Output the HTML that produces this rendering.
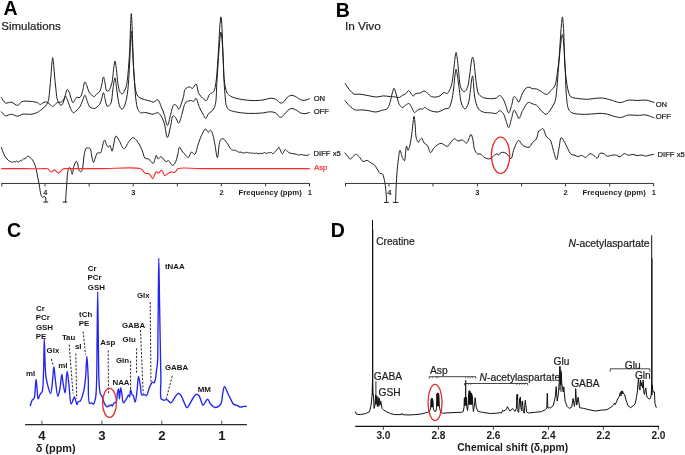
<!DOCTYPE html>
<html><head><meta charset="utf-8"><style>
html,body{margin:0;padding:0;background:#fff;}
body{width:685px;height:455px;overflow:hidden;font-family:"Liberation Sans",sans-serif;}
svg{display:block;will-change:transform;}
</style></head><body>
<svg width="685" height="455" viewBox="0 0 685 455"><rect width="685" height="455" fill="#fff"/><g fill="none" stroke="#1e1e1e" stroke-width="1" stroke-linejoin="round" stroke-linecap="round"><path d="M1.30,111.80 C2.02,112.47 3.95,115.40 5.60,115.80 C7.25,116.20 9.27,114.18 11.20,114.20 C13.29,114.22 15.71,116.30 17.70,116.20 C19.44,116.12 20.58,114.58 22.50,114.20 C25.09,113.68 29.17,114.71 32.00,114.20 C34.41,113.77 37.13,112.57 38.50,111.80 C39.22,111.39 39.39,111.07 40.00,110.60 C40.92,109.89 42.42,108.99 43.50,108.00 C44.62,106.97 45.78,105.77 46.60,104.50 C47.40,103.27 47.93,102.19 48.40,100.50 C49.14,97.87 49.30,93.82 49.70,90.00 C50.18,85.45 50.62,79.72 51.00,75.00 C51.34,70.78 51.54,66.19 51.90,63.00 C52.14,60.87 52.43,57.70 52.70,57.70 C52.97,57.70 53.25,60.87 53.50,63.00 C53.87,66.19 54.13,70.91 54.50,75.00 C54.89,79.30 55.34,84.05 55.80,88.20 C56.21,91.90 56.46,96.14 57.10,98.70 C57.49,100.24 57.89,101.19 58.50,102.30 C59.10,103.39 59.98,105.06 60.70,105.30 C61.14,105.44 61.62,105.22 62.00,104.90 C62.55,104.43 62.88,103.38 63.30,102.30 C63.93,100.70 64.45,98.19 65.10,96.10 C65.78,93.93 66.47,89.64 67.30,89.50 C67.83,89.41 68.48,90.70 69.00,91.70 C69.85,93.33 70.44,96.71 71.20,98.70 C71.79,100.24 72.33,102.64 73.00,102.70 C73.61,102.75 74.31,100.64 75.00,99.70 C75.65,98.81 76.24,97.46 77.00,97.20 C77.61,96.99 78.37,97.83 79.00,97.70 C79.68,97.55 80.35,96.99 80.90,96.20 C81.81,94.88 82.26,92.05 82.90,89.80 C83.60,87.31 84.09,81.99 84.90,81.90 C85.49,81.83 86.28,84.33 86.90,85.80 C87.64,87.56 88.03,90.20 88.90,91.80 C89.58,93.04 90.37,94.01 91.30,94.80 C92.18,95.55 93.40,96.64 94.30,96.50 C95.23,96.35 95.90,94.66 96.80,93.80 C97.73,92.92 99.02,92.48 99.80,91.30 C100.82,89.76 101.11,87.16 101.70,84.90 C102.35,82.39 102.90,76.91 103.50,76.90 C104.06,76.90 104.66,81.57 105.20,83.90 C105.73,86.21 105.71,90.00 106.70,90.80 C107.23,91.23 108.17,91.10 108.70,90.80 C109.30,90.46 109.57,89.56 110.00,88.60 C110.71,87.03 111.54,84.66 112.10,82.10 C112.87,78.58 113.06,73.10 113.60,69.30 C114.04,66.23 114.53,61.00 115.00,61.00 C115.47,61.00 115.97,66.15 116.40,69.30 C116.96,73.41 117.18,79.47 117.90,83.60 C118.46,86.82 118.95,90.40 120.00,92.10 C120.59,93.06 121.42,93.95 122.10,93.90 C122.85,93.85 123.66,92.48 124.30,91.40 C125.17,89.95 125.84,87.93 126.40,85.70 C127.15,82.72 127.49,78.74 127.90,75.00 C128.35,70.91 128.60,66.33 128.90,62.10 C129.19,58.00 129.47,54.54 129.70,50.00 C129.99,44.17 130.18,35.82 130.40,30.00 C130.57,25.49 130.70,21.02 130.90,18.00 C131.02,16.17 131.17,13.60 131.30,13.60 C131.43,13.60 131.58,16.17 131.70,18.00 C131.90,21.02 132.03,25.49 132.20,30.00 C132.42,35.82 132.66,43.39 132.90,50.00 C133.13,56.49 133.23,63.07 133.60,69.30 C133.95,75.18 134.24,81.69 135.00,86.40 C135.55,89.78 135.97,92.99 137.10,95.00 C137.87,96.37 138.85,97.14 140.00,97.90 C141.22,98.70 142.75,99.11 144.30,99.60 C146.05,100.16 148.42,100.49 150.00,101.00 C151.17,101.38 151.89,102.25 153.00,102.20 C154.42,102.14 156.51,99.37 157.80,99.80 C159.29,100.30 159.98,103.92 161.00,106.20 C162.12,108.72 163.20,111.36 164.20,114.30 C165.36,117.71 166.32,125.50 167.40,125.50 C168.48,125.50 169.58,117.89 170.70,114.30 C171.75,110.94 172.47,105.32 173.90,104.60 C174.61,104.24 175.58,104.85 176.30,105.40 C177.25,106.13 177.86,109.19 178.70,109.10 C180.17,108.95 182.41,100.25 183.50,96.60 C184.32,93.88 183.83,90.93 185.10,89.30 C186.17,87.92 188.59,86.82 189.90,86.90 C190.86,86.96 191.47,88.62 192.30,88.50 C193.48,88.33 194.99,83.80 196.00,84.00 C197.31,84.26 197.44,90.85 198.80,93.40 C199.91,95.49 201.57,97.25 203.00,98.50 C204.11,99.47 205.41,100.88 206.40,100.60 C207.72,100.22 208.21,95.70 209.60,94.20 C210.72,92.99 212.59,93.17 213.60,91.80 C215.08,89.79 215.38,85.82 216.00,82.10 C216.81,77.23 217.07,70.52 217.50,65.00 C217.90,59.84 218.17,55.36 218.50,50.00 C218.88,43.81 219.23,35.52 219.60,30.00 C219.86,26.09 220.11,22.38 220.40,20.00 C220.56,18.67 220.73,16.90 220.90,16.90 C221.07,16.90 221.25,18.67 221.40,20.00 C221.67,22.38 221.89,26.09 222.10,30.00 C222.39,35.52 222.57,43.81 222.80,50.00 C223.00,55.36 223.18,60.10 223.40,65.00 C223.61,69.72 223.68,74.77 224.10,78.90 C224.44,82.26 224.87,85.38 225.50,88.00 C226.00,90.06 226.22,91.93 227.30,93.40 C228.40,94.91 230.11,95.95 232.10,96.90 C234.68,98.13 238.31,98.89 241.80,99.50 C245.74,100.19 250.64,100.59 254.60,100.60 C258.03,100.60 261.33,100.27 264.20,99.80 C266.59,99.41 268.69,98.24 270.70,98.20 C272.42,98.17 273.92,98.51 275.50,99.20 C277.36,100.01 279.38,103.00 281.00,103.10 C282.18,103.18 283.21,102.25 284.20,101.40 C285.42,100.36 286.15,98.00 287.50,97.00 C288.75,96.07 290.43,95.40 291.90,95.40 C293.37,95.40 294.87,96.30 296.30,97.00 C297.81,97.74 299.18,99.26 300.70,99.80 C302.09,100.29 303.58,100.47 305.00,100.30 C306.48,100.13 308.67,98.97 309.40,98.70"/><path d="M1.30,97.70 C2.02,98.58 3.84,102.31 5.60,103.00 C7.20,103.63 9.31,101.90 11.20,102.20 C13.34,102.54 15.87,105.67 17.70,105.40 C19.29,105.17 19.94,102.42 21.70,101.70 C23.94,100.78 27.72,101.20 30.50,101.40 C33.03,101.58 36.03,101.95 37.70,102.70 C38.76,103.17 39.19,104.43 40.00,104.50 C40.82,104.57 41.72,103.55 42.60,103.10 C43.49,102.65 44.40,101.85 45.30,101.80 C46.16,101.75 47.07,102.23 47.90,102.70 C48.82,103.22 49.66,104.22 50.50,104.90 C51.26,105.51 51.97,106.63 52.70,106.60 C53.47,106.57 54.20,105.20 55.00,104.50 C55.83,103.77 56.67,102.64 57.60,102.30 C58.42,102.00 59.38,102.46 60.20,102.30 C60.98,102.15 61.77,101.92 62.40,101.40 C63.14,100.80 63.67,99.61 64.20,98.70 C64.70,97.84 65.03,96.10 65.50,96.10 C66.05,96.10 66.71,98.24 67.30,99.60 C68.06,101.35 68.74,103.88 69.50,105.80 C70.18,107.52 70.83,109.35 71.60,110.60 C72.16,111.52 72.69,112.70 73.40,112.80 C74.15,112.91 75.15,111.69 76.00,111.00 C76.92,110.24 77.90,109.40 78.70,108.40 C79.55,107.32 80.23,106.05 80.90,104.70 C81.65,103.18 82.22,101.32 82.90,99.70 C83.55,98.15 84.22,95.18 84.90,95.20 C85.71,95.22 86.53,99.65 87.40,101.70 C88.20,103.60 88.84,106.08 89.90,107.10 C90.60,107.77 91.48,107.85 92.30,108.10 C93.11,108.35 94.01,108.79 94.80,108.60 C95.69,108.38 96.48,107.32 97.30,106.60 C98.15,105.85 99.12,105.27 99.80,104.20 C100.69,102.82 101.10,100.59 101.70,98.70 C102.33,96.73 102.93,92.59 103.50,92.60 C104.11,92.62 104.57,97.41 105.20,99.70 C105.81,101.90 106.19,105.53 107.20,106.10 C107.76,106.41 108.61,106.02 109.20,105.60 C109.96,105.06 110.58,104.10 111.10,102.70 C112.13,99.93 112.22,93.58 112.90,89.30 C113.53,85.34 114.39,77.89 115.00,77.90 C115.53,77.91 115.95,83.35 116.40,86.40 C116.92,89.94 117.25,94.29 117.90,97.90 C118.48,101.15 118.96,105.17 120.00,107.10 C120.59,108.20 121.41,109.34 122.10,109.30 C122.85,109.26 123.67,107.65 124.30,106.40 C125.20,104.61 125.83,101.89 126.40,99.30 C127.07,96.27 127.47,93.22 127.90,89.30 C128.51,83.79 128.94,75.41 129.30,69.30 C129.61,64.14 129.79,59.82 130.00,55.00 C130.22,50.06 130.34,44.32 130.60,40.00 C130.80,36.71 131.07,31.30 131.30,31.30 C131.53,31.30 131.77,36.71 132.00,40.00 C132.30,44.32 132.63,50.18 132.90,55.00 C133.16,59.49 133.34,64.14 133.60,68.00 C133.81,71.11 134.04,72.95 134.30,76.40 C134.71,81.91 134.93,91.88 135.70,97.90 C136.27,102.32 136.70,106.66 137.90,109.30 C138.65,110.96 139.55,112.43 140.70,112.90 C141.73,113.32 142.97,112.35 144.30,112.40 C145.99,112.46 148.40,113.27 150.00,113.60 C151.16,113.84 151.89,114.26 153.00,114.20 C154.42,114.12 156.44,112.37 157.80,112.70 C159.09,113.02 160.04,114.51 161.00,115.90 C162.26,117.74 163.26,120.23 164.20,123.10 C165.50,127.04 166.27,137.57 167.40,137.60 C168.44,137.63 169.72,129.31 170.70,125.50 C171.57,122.12 171.75,116.41 173.00,115.90 C173.69,115.62 174.71,116.67 175.50,117.50 C176.66,118.72 177.72,123.18 178.70,123.10 C179.89,123.00 180.80,117.48 181.90,114.30 C183.19,110.60 183.71,104.30 185.90,102.20 C187.38,100.78 190.01,100.58 191.50,100.60 C192.50,100.62 193.29,101.66 194.00,101.40 C194.85,101.09 195.31,98.13 196.00,98.20 C197.14,98.31 198.31,104.99 199.60,107.80 C200.67,110.13 201.92,112.13 203.00,114.00 C203.91,115.57 204.67,118.28 205.60,118.30 C206.60,118.32 207.55,114.78 208.80,113.40 C209.97,112.11 211.74,111.57 212.80,110.20 C213.96,108.70 214.66,107.17 215.30,104.60 C216.53,99.68 216.41,89.39 216.90,82.10 C217.37,75.21 217.77,68.42 218.20,62.00 C218.60,56.10 219.01,49.92 219.40,45.00 C219.70,41.23 219.96,37.33 220.30,35.00 C220.49,33.74 220.70,32.10 220.90,32.10 C221.10,32.10 221.31,33.74 221.50,35.00 C221.84,37.33 222.12,41.22 222.40,45.00 C222.77,49.92 223.12,56.09 223.40,62.00 C223.70,68.42 223.75,75.80 224.10,82.10 C224.41,87.71 224.81,93.58 225.30,98.00 C225.65,101.19 225.68,104.11 226.50,106.20 C227.09,107.70 227.70,108.80 228.90,109.70 C230.41,110.83 232.76,111.23 235.30,111.80 C238.82,112.59 243.90,113.18 248.20,113.40 C252.47,113.61 257.04,113.41 261.00,113.10 C264.47,112.83 268.04,111.68 270.70,111.80 C272.59,111.89 273.99,112.12 275.50,112.90 C277.25,113.81 278.84,117.21 280.40,117.30 C281.72,117.38 283.00,115.70 284.20,114.60 C285.54,113.38 286.60,111.23 288.00,110.20 C289.20,109.32 290.55,108.53 291.90,108.50 C293.32,108.47 294.86,109.49 296.30,110.20 C297.80,110.94 299.19,112.32 300.70,112.90 C302.09,113.44 303.57,113.77 305.00,113.70 C306.47,113.62 308.67,112.62 309.40,112.40"/><path d="M1.40,147.40 C1.57,147.90 1.96,149.26 2.40,150.40 C3.00,151.99 3.92,154.46 4.80,156.00 C5.49,157.20 6.27,158.15 7.00,159.00 C7.60,159.70 8.16,160.38 8.80,160.80 C9.34,161.16 9.89,161.25 10.50,161.50 C11.21,161.78 12.18,162.51 12.80,162.40 C13.30,162.31 13.58,161.34 14.00,161.30 C14.39,161.26 14.80,162.03 15.20,162.00 C15.63,161.97 16.07,161.00 16.50,161.00 C16.93,161.00 17.33,161.91 17.80,162.00 C18.26,162.09 18.86,161.87 19.30,161.60 C19.78,161.30 20.10,160.24 20.50,160.20 C20.83,160.17 21.17,161.04 21.50,161.00 C21.93,160.95 22.34,159.75 22.80,159.30 C23.18,158.92 23.62,158.39 24.00,158.40 C24.35,158.41 24.66,159.24 25.00,159.20 C25.48,159.14 25.93,157.70 26.50,157.20 C26.98,156.77 27.58,156.31 28.10,156.30 C28.58,156.29 29.02,156.69 29.50,157.00 C30.08,157.38 30.70,157.85 31.30,158.50 C32.10,159.37 32.99,160.49 33.70,161.90 C34.66,163.80 35.44,166.62 36.10,169.10 C36.78,171.68 37.17,174.43 37.70,177.10 C38.23,179.77 38.78,182.30 39.30,185.10 C39.88,188.17 40.16,192.71 41.00,194.80 C41.45,195.93 41.99,197.04 42.60,197.20 C43.08,197.33 43.69,196.32 44.20,196.40 C44.77,196.49 45.50,197.27 45.80,198.00 C46.20,198.98 45.80,201.33 45.80,202.00"/><path d="M65.50,202.00 C65.72,198.90 66.39,188.79 66.80,183.40 C67.11,179.25 67.12,175.33 67.70,172.40 C68.10,170.38 68.66,167.48 69.30,167.40 C69.80,167.34 70.52,169.15 71.00,170.20 C71.55,171.41 71.90,174.32 72.30,174.30 C72.83,174.27 72.98,169.17 73.70,166.90 C74.36,164.83 75.56,161.23 76.30,161.20 C76.79,161.18 77.21,162.55 77.60,163.60 C78.24,165.31 78.31,169.43 79.20,170.70 C79.67,171.37 80.41,171.94 80.90,171.80 C81.56,171.61 82.05,170.03 82.50,168.50 C83.38,165.54 83.37,158.54 84.20,154.80 C84.80,152.11 85.29,148.81 86.40,148.00 C87.02,147.55 87.94,147.86 88.60,148.00 C89.19,148.12 89.75,148.15 90.20,148.70 C91.18,149.92 91.29,154.53 91.90,157.00 C92.40,159.03 92.92,162.48 93.50,162.50 C94.03,162.52 94.58,159.61 95.20,158.10 C95.87,156.48 96.29,153.95 97.40,153.10 C98.27,152.43 99.90,153.30 100.70,152.60 C101.75,151.68 101.72,149.05 102.30,147.10 C102.97,144.88 103.70,140.05 104.50,140.00 C105.18,139.96 105.94,143.62 106.70,144.90 C107.25,145.82 107.83,147.07 108.40,147.10 C108.93,147.13 109.51,145.30 110.00,145.40 C110.79,145.57 111.27,151.23 112.00,151.20 C113.17,151.16 114.37,136.28 116.00,136.00 C116.99,135.83 118.14,138.97 119.30,140.80 C120.77,143.11 122.37,148.75 124.00,148.80 C125.58,148.85 127.26,143.59 128.90,141.60 C130.23,140.00 131.53,137.68 132.90,137.60 C134.20,137.53 135.64,139.31 136.90,140.80 C138.67,142.89 140.64,146.97 141.80,149.60 C142.67,151.57 143.02,153.46 143.60,155.00 C144.05,156.19 144.11,157.40 144.90,158.10 C145.77,158.87 147.54,158.49 148.80,159.20 C150.33,160.06 152.01,163.57 153.20,163.30 C154.62,162.98 155.38,155.44 156.30,155.40 C156.92,155.38 157.19,158.68 158.00,158.90 C158.80,159.11 160.00,156.70 161.10,156.80 C162.58,156.94 164.45,161.27 165.90,161.60 C166.83,161.81 167.63,160.46 168.50,160.70 C169.82,161.07 171.28,165.44 172.50,165.50 C173.43,165.54 174.35,164.12 175.10,162.90 C176.23,161.07 176.96,157.64 177.70,155.00 C178.42,152.41 178.54,147.37 179.50,147.20 C180.31,147.05 181.65,150.72 182.70,152.00 C183.51,152.99 184.24,153.54 185.10,154.40 C186.09,155.39 187.31,157.73 188.30,157.60 C189.48,157.44 190.27,152.25 191.50,152.00 C192.47,151.80 193.78,154.68 194.70,154.40 C196.17,153.95 196.89,147.93 198.00,144.80 C199.06,141.80 200.41,137.78 201.20,136.00 C201.56,135.20 201.69,135.02 202.10,134.30 C202.83,133.01 204.14,129.14 205.30,129.00 C206.30,128.88 207.55,132.20 208.50,132.20 C209.27,132.20 209.96,130.00 210.60,130.10 C211.40,130.23 212.09,132.57 212.70,134.30 C213.58,136.81 214.09,140.41 214.80,143.90 C215.65,148.06 216.56,157.61 217.40,157.60 C218.33,157.59 218.65,143.54 220.10,140.70 C220.70,139.52 221.45,138.73 222.20,138.60 C222.86,138.49 223.73,139.17 224.30,139.60 C224.81,139.99 225.06,140.44 225.50,141.00 C226.12,141.78 226.94,142.90 227.60,143.90 C228.27,144.90 228.91,146.06 229.50,147.00 C230.00,147.80 230.34,148.69 230.90,149.20 C231.37,149.62 231.95,149.78 232.50,150.00 C233.05,150.22 233.67,150.48 234.20,150.50 C234.66,150.51 235.11,150.11 235.50,150.20 C235.88,150.29 236.15,150.83 236.50,151.00 C236.82,151.15 237.17,151.02 237.50,151.20 C237.94,151.44 238.35,152.44 238.80,152.50 C239.19,152.55 239.63,151.83 240.00,151.80 C240.29,151.78 240.48,151.98 240.80,152.10 C241.26,152.28 241.88,152.66 242.50,152.80 C243.17,152.95 243.99,153.00 244.70,152.90 C245.39,152.80 246.06,152.17 246.70,152.20 C247.32,152.23 247.92,152.95 248.50,153.00 C249.02,153.04 249.53,152.53 250.00,152.60 C250.46,152.67 250.82,153.34 251.30,153.40 C251.81,153.47 252.46,152.87 253.00,152.90 C253.52,152.92 253.96,153.45 254.50,153.50 C255.11,153.56 255.89,153.06 256.50,153.10 C257.04,153.13 257.52,153.48 258.00,153.60 C258.42,153.70 258.76,153.83 259.20,153.80 C259.74,153.76 260.42,153.24 261.00,153.20 C261.52,153.17 261.98,153.57 262.50,153.50 C263.11,153.41 263.81,152.51 264.40,152.50 C264.90,152.49 265.34,153.05 265.80,153.20 C266.21,153.33 266.59,153.47 267.00,153.40 C267.49,153.32 267.99,152.68 268.50,152.60 C268.99,152.53 269.57,153.00 270.00,152.90 C270.39,152.80 270.68,152.07 271.00,152.10 C271.35,152.13 271.64,152.91 272.00,153.20 C272.32,153.46 272.66,153.84 273.00,153.80 C273.43,153.75 273.87,152.93 274.30,152.50 C274.73,152.07 275.14,151.70 275.60,151.20 C276.18,150.57 276.92,149.70 277.50,149.00 C278.01,148.38 278.53,147.17 278.90,147.20 C279.20,147.22 279.38,148.05 279.60,148.50 C279.82,148.95 279.97,149.39 280.20,149.90 C280.49,150.53 280.86,151.33 281.20,152.00 C281.52,152.63 281.80,153.74 282.20,153.80 C282.58,153.85 283.07,153.06 283.50,152.50 C284.08,151.73 284.50,149.64 285.20,149.50 C285.83,149.37 286.78,150.65 287.40,151.20 C287.91,151.65 288.24,152.18 288.70,152.50 C289.11,152.79 289.54,152.94 290.00,153.10 C290.50,153.28 291.06,153.38 291.60,153.50 C292.16,153.62 292.73,153.73 293.30,153.80 C293.86,153.87 294.44,153.83 295.00,153.90 C295.54,153.97 296.05,154.03 296.60,154.20 C297.24,154.40 297.93,155.04 298.60,155.10 C299.23,155.15 299.85,154.67 300.50,154.60 C301.15,154.53 301.89,154.57 302.50,154.70 C303.05,154.82 303.52,155.25 304.00,155.30 C304.42,155.34 304.76,155.09 305.20,155.10 C305.76,155.11 306.47,155.58 307.10,155.50 C307.77,155.41 308.77,154.67 309.10,154.50"/><path d="M345.20,83.70 C345.58,84.25 346.76,85.95 347.50,87.00 C348.19,87.97 348.76,88.90 349.50,89.80 C350.26,90.73 351.15,91.72 352.00,92.50 C352.76,93.20 353.32,93.99 354.30,94.30 C355.55,94.70 357.30,93.99 359.10,94.10 C361.43,94.24 364.31,94.94 367.10,95.40 C370.18,95.90 373.90,97.01 376.80,97.00 C379.16,96.99 381.00,95.98 383.20,95.90 C385.52,95.81 388.33,96.45 390.40,96.60 C391.96,96.71 393.09,96.66 394.50,96.80 C396.02,96.95 397.83,97.80 399.20,97.50 C400.43,97.23 401.30,96.02 402.40,95.40 C403.47,94.79 404.70,94.55 405.70,93.80 C406.78,92.99 407.66,90.58 408.60,90.60 C409.53,90.62 410.49,92.80 411.30,93.80 C412.00,94.65 412.54,96.18 413.20,96.20 C413.87,96.22 414.33,94.34 415.30,93.80 C416.49,93.13 418.60,93.47 420.10,93.00 C421.53,92.55 422.86,91.04 424.10,91.10 C425.24,91.15 426.21,92.20 427.30,93.00 C428.63,93.96 429.86,95.95 431.40,96.60 C432.85,97.21 434.71,97.17 436.20,97.00 C437.56,96.85 438.78,96.45 440.00,95.80 C441.39,95.06 442.67,92.89 444.00,92.60 C445.07,92.37 446.22,93.83 447.20,93.40 C448.75,92.73 450.17,89.19 451.20,86.20 C452.64,82.00 453.04,75.09 453.70,70.10 C454.27,65.79 454.50,61.24 455.00,58.00 C455.34,55.80 455.73,52.50 456.10,52.50 C456.47,52.50 456.86,55.80 457.20,58.00 C457.70,61.24 457.96,65.69 458.50,70.10 C459.15,75.44 459.32,84.12 460.90,87.80 C461.74,89.77 463.03,91.80 464.10,91.80 C465.17,91.80 466.45,89.65 467.30,87.80 C468.65,84.85 469.01,79.37 469.70,75.00 C470.42,70.45 470.85,64.24 471.50,61.00 C471.85,59.25 472.22,57.00 472.60,57.00 C472.98,57.00 473.45,59.24 473.80,61.00 C474.45,64.23 474.76,70.42 475.30,75.00 C475.83,79.42 476.34,84.51 477.00,88.00 C477.45,90.40 477.56,92.48 478.50,94.00 C479.29,95.27 480.87,96.15 481.80,96.80 C482.41,97.22 482.63,97.45 483.40,97.70 C485.02,98.23 489.07,98.72 491.40,98.70 C493.20,98.68 494.78,98.55 496.20,98.00 C497.53,97.48 498.56,95.49 499.70,95.60 C500.97,95.72 502.42,97.77 503.40,99.30 C504.53,101.05 504.95,103.51 505.80,105.70 C506.71,108.03 507.75,112.91 508.70,112.90 C509.65,112.89 510.63,108.27 511.50,105.70 C512.48,102.82 513.01,96.67 514.20,96.40 C514.95,96.23 516.03,98.30 516.80,99.30 C517.52,100.24 518.01,102.26 518.70,102.20 C519.88,102.10 521.07,95.43 522.70,92.80 C524.09,90.57 525.63,87.76 527.50,87.20 C529.16,86.70 531.46,88.55 533.10,88.80 C534.33,88.99 535.28,88.62 536.40,88.90 C537.70,89.23 538.94,90.11 540.40,90.90 C542.24,91.90 544.69,94.69 546.50,94.50 C548.16,94.33 549.52,91.95 550.90,90.50 C552.32,89.02 553.89,87.86 554.90,85.70 C556.37,82.57 556.63,77.10 557.30,72.80 C557.96,68.53 558.44,64.75 558.90,60.00 C559.48,54.08 559.86,46.19 560.30,40.00 C560.68,34.64 560.98,29.23 561.40,25.00 C561.71,21.88 562.08,16.90 562.40,16.90 C562.72,16.90 563.05,21.88 563.30,25.00 C563.63,29.23 563.81,34.64 564.00,40.00 C564.22,46.19 564.18,53.82 564.50,60.00 C564.78,65.36 565.24,70.63 565.70,75.00 C566.06,78.42 566.41,81.18 566.90,84.10 C567.36,86.83 567.71,89.73 568.50,92.00 C569.16,93.88 569.59,95.81 571.00,96.90 C572.63,98.16 575.61,98.11 578.20,98.50 C581.16,98.95 584.93,99.36 587.80,99.30 C590.15,99.25 592.12,98.72 594.20,98.50 C596.18,98.29 598.14,98.01 600.00,98.00 C601.73,97.99 603.19,98.07 605.00,98.40 C607.24,98.80 609.87,99.81 612.40,100.50 C615.04,101.22 617.82,102.67 620.50,102.60 C623.18,102.53 625.75,100.46 628.50,100.10 C631.31,99.74 634.30,100.50 637.20,100.50 C640.10,100.50 643.08,99.77 645.90,100.10 C648.68,100.42 652.65,102.02 654.00,102.40"/><path d="M345.00,100.70 C345.75,101.57 347.82,104.37 349.50,105.90 C351.18,107.43 353.13,109.27 355.10,109.90 C356.88,110.47 358.77,109.82 360.70,109.90 C362.76,109.98 364.80,110.10 367.10,110.40 C369.83,110.75 373.39,112.13 376.00,112.00 C378.10,111.89 379.73,110.93 381.60,110.40 C383.47,109.87 385.88,109.92 387.20,108.80 C388.46,107.73 388.94,105.42 389.50,104.00 C389.92,102.93 390.07,102.32 390.40,101.10 C390.95,99.09 391.59,95.33 392.30,93.00 C392.85,91.17 393.54,88.20 394.10,88.20 C394.60,88.20 395.06,90.70 395.50,92.00 C395.96,93.36 396.31,94.57 396.80,96.20 C397.48,98.46 398.02,102.32 399.20,104.30 C400.06,105.75 401.29,107.41 402.40,107.50 C403.46,107.58 404.58,105.78 405.70,105.10 C406.75,104.46 407.98,103.28 408.90,103.50 C409.87,103.73 410.49,105.44 411.30,106.70 C412.35,108.34 413.36,112.37 414.50,112.60 C415.27,112.76 416.02,111.31 416.90,110.70 C417.87,110.03 419.07,109.01 420.10,108.80 C420.93,108.63 421.73,109.28 422.50,109.10 C423.34,108.90 424.10,107.50 424.90,107.50 C425.70,107.50 426.37,108.58 427.30,109.10 C428.46,109.75 429.89,110.53 431.40,111.00 C433.09,111.53 435.43,112.04 437.00,112.00 C438.16,111.97 438.91,111.69 440.00,111.30 C441.44,110.78 443.24,109.44 444.80,108.90 C446.16,108.43 447.77,108.93 448.80,108.10 C450.06,107.08 450.50,104.85 451.20,102.50 C452.28,98.84 453.06,92.71 453.70,88.00 C454.30,83.56 454.50,78.44 455.00,75.00 C455.34,72.70 455.72,69.30 456.10,69.30 C456.48,69.30 456.89,72.65 457.30,75.00 C457.95,78.73 458.57,84.75 459.30,89.60 C460.03,94.45 460.35,100.67 461.70,104.10 C462.55,106.25 463.83,108.90 464.90,108.90 C465.97,108.90 467.25,106.25 468.10,104.10 C469.45,100.67 469.89,93.94 470.50,89.60 C470.99,86.08 471.15,82.54 471.60,80.00 C471.90,78.30 472.31,75.78 472.60,75.80 C473.01,75.82 473.31,81.00 473.60,84.00 C473.96,87.64 473.73,92.05 474.50,96.10 C475.31,100.35 476.48,106.23 478.50,108.90 C479.83,110.66 481.47,111.42 483.40,112.10 C485.66,112.90 489.07,112.66 491.40,112.90 C493.20,113.08 494.79,113.79 496.20,113.40 C497.54,113.03 498.52,110.78 499.70,110.80 C500.92,110.82 502.43,112.37 503.40,113.70 C504.58,115.30 504.96,117.88 505.80,120.10 C506.72,122.53 507.79,127.73 508.70,127.70 C509.69,127.67 510.56,121.48 511.50,118.50 C512.39,115.66 513.16,110.32 514.20,110.20 C514.99,110.11 515.98,113.08 516.80,114.50 C517.58,115.85 518.20,118.53 519.00,118.50 C520.11,118.46 521.20,113.10 522.70,110.50 C524.28,107.76 526.23,103.19 528.30,102.50 C529.79,102.01 531.65,103.64 533.10,104.10 C534.30,104.48 535.30,104.39 536.40,105.10 C538.00,106.13 539.51,109.02 541.20,110.60 C542.75,112.05 544.54,114.45 546.10,114.30 C547.78,114.14 549.47,110.99 550.90,109.00 C552.43,106.86 553.97,104.47 554.90,101.80 C555.92,98.89 556.03,95.90 556.50,92.10 C557.16,86.77 557.57,79.10 558.10,72.80 C558.61,66.75 559.08,60.47 559.60,55.00 C560.05,50.32 560.45,45.73 561.00,42.00 C561.42,39.15 561.97,34.49 562.40,34.50 C562.83,34.51 563.26,38.95 563.60,42.00 C564.13,46.70 564.47,54.00 564.80,60.00 C565.13,66.00 565.37,72.37 565.60,78.00 C565.80,82.99 565.67,87.20 566.10,92.10 C566.58,97.49 566.89,105.54 568.50,109.00 C569.37,110.86 570.21,111.82 571.80,112.70 C574.03,113.93 577.96,114.08 581.40,114.30 C585.35,114.55 590.77,114.01 594.20,113.80 C596.51,113.66 597.95,113.26 600.00,113.30 C602.32,113.34 605.19,113.72 607.40,114.20 C609.25,114.60 610.52,115.30 612.40,115.80 C614.76,116.42 617.82,117.63 620.50,117.50 C623.19,117.37 625.75,115.36 628.50,115.00 C631.31,114.64 634.30,115.40 637.20,115.40 C640.10,115.40 643.09,114.58 645.90,115.00 C648.69,115.42 652.65,117.42 654.00,117.90"/><path d="M345.00,153.00 C345.42,153.50 346.63,155.00 347.50,156.00 C348.40,157.03 349.36,159.07 350.30,159.10 C351.19,159.13 352.06,157.30 353.00,156.50 C353.93,155.71 354.91,154.30 355.90,154.30 C356.94,154.30 358.03,155.69 359.10,156.70 C360.43,157.97 361.60,161.03 363.10,161.50 C364.32,161.88 365.81,160.19 367.10,160.40 C368.49,160.63 369.82,162.35 371.10,163.10 C372.20,163.75 373.41,163.92 374.30,164.70 C375.23,165.52 375.80,166.91 376.50,168.00 C377.17,169.04 377.78,170.14 378.40,171.10 C378.95,171.96 379.29,173.04 380.00,173.50 C380.65,173.92 381.77,173.38 382.40,173.90 C383.28,174.63 383.53,176.59 384.00,178.40 C384.67,180.98 385.17,184.48 385.60,188.00 C386.12,192.24 386.52,199.75 386.70,202.10"/><path d="M395.50,202.40 C395.72,197.85 396.22,182.99 396.80,175.10 C397.25,169.05 397.76,163.63 398.40,159.10 C398.88,155.72 399.29,150.35 400.00,150.30 C400.65,150.25 401.51,155.62 402.40,157.50 C403.02,158.83 403.84,160.82 404.40,160.70 C405.51,160.47 405.62,146.30 406.50,146.20 C406.98,146.14 407.57,150.30 408.10,150.30 C408.63,150.30 409.24,147.83 409.70,146.20 C410.34,143.96 410.78,140.57 411.20,138.00 C411.57,135.74 411.81,134.00 412.10,131.60 C412.48,128.51 412.81,123.82 413.20,121.00 C413.46,119.11 413.73,116.30 414.00,116.30 C414.27,116.30 414.59,119.35 414.80,121.00 C415.03,122.83 415.10,124.54 415.30,126.80 C415.58,129.96 415.46,135.44 416.30,138.20 C416.83,139.95 417.81,142.18 418.50,142.20 C419.06,142.21 419.51,140.30 420.10,139.60 C420.59,139.02 421.18,138.10 421.70,138.20 C422.53,138.36 423.06,141.78 424.10,143.00 C424.99,144.05 426.36,144.14 427.30,145.30 C428.65,146.96 429.41,152.59 430.60,152.70 C431.60,152.79 432.60,149.34 433.80,148.00 C434.89,146.78 436.14,145.70 437.40,144.90 C438.55,144.17 439.94,143.32 441.00,143.30 C441.82,143.29 442.37,143.80 443.20,144.20 C444.35,144.75 445.95,146.62 447.20,146.40 C448.64,146.15 449.91,143.25 451.20,141.90 C452.33,140.72 453.37,138.80 454.50,138.70 C455.54,138.61 456.67,140.69 457.70,140.90 C458.52,141.07 459.30,140.55 460.10,140.40 C460.90,140.25 461.65,139.78 462.50,140.00 C463.73,140.32 465.43,143.41 466.50,143.20 C467.56,142.99 468.15,140.28 468.90,138.80 C469.64,137.34 470.36,134.37 471.00,134.40 C471.70,134.44 472.36,137.72 472.90,139.80 C473.60,142.50 473.49,146.75 474.50,149.30 C475.28,151.27 476.53,153.56 477.70,154.10 C478.46,154.45 479.25,153.55 480.10,153.80 C481.36,154.18 482.77,156.43 484.20,157.30 C485.48,158.07 486.93,158.81 488.20,158.90 C489.31,158.98 490.41,158.66 491.40,158.10 C492.57,157.44 493.54,155.63 494.60,154.90 C495.41,154.34 496.30,153.74 497.00,153.80 C497.60,153.85 498.04,154.95 498.60,154.90 C499.35,154.83 500.05,152.89 501.00,152.50 C501.92,152.12 503.17,152.22 504.20,152.50 C505.31,152.80 506.37,153.53 507.40,154.40 C508.66,155.46 510.00,158.81 511.00,158.60 C512.32,158.33 512.63,152.31 513.90,149.30 C515.19,146.24 517.05,140.56 518.70,140.40 C520.00,140.28 521.00,144.15 522.70,145.30 C524.45,146.48 527.47,147.85 529.10,147.30 C530.58,146.80 531.09,144.19 532.30,142.80 C533.52,141.39 535.35,140.60 536.40,138.90 C537.67,136.83 537.76,132.14 538.80,130.90 C539.28,130.33 539.82,130.43 540.40,130.10 C541.13,129.68 542.09,128.30 542.80,128.50 C543.83,128.80 544.54,132.50 545.30,134.10 C545.88,135.32 546.14,136.38 546.90,137.30 C547.71,138.27 549.19,138.41 550.10,139.70 C551.60,141.83 552.22,146.70 553.30,150.10 C554.35,153.40 555.59,159.85 556.50,159.80 C557.47,159.75 558.09,152.23 558.90,148.50 C559.69,144.83 560.08,137.85 561.30,137.60 C562.16,137.43 563.49,140.43 564.50,142.10 C565.65,144.01 566.59,146.44 567.70,148.50 C568.76,150.47 569.58,153.10 571.00,154.20 C572.13,155.07 573.75,154.88 575.00,155.30 C576.14,155.69 577.13,156.60 578.20,156.60 C579.27,156.60 580.29,155.25 581.40,155.30 C582.67,155.36 584.04,157.52 585.40,157.40 C586.97,157.26 588.63,153.84 590.20,153.70 C591.56,153.58 592.97,155.02 594.20,155.80 C595.36,156.53 596.50,158.41 597.40,158.20 C598.45,157.96 598.68,154.08 599.90,153.40 C600.95,152.82 602.70,153.25 603.90,153.70 C605.10,154.15 605.88,155.82 607.10,156.10 C608.37,156.40 609.96,155.48 611.40,155.30 C612.83,155.12 614.29,154.78 615.70,155.00 C617.16,155.23 618.61,156.87 620.00,156.70 C621.49,156.51 622.81,153.79 624.30,153.60 C625.69,153.43 627.15,155.19 628.60,155.30 C630.02,155.41 631.48,154.23 632.90,154.30 C634.32,154.37 635.68,155.59 637.10,155.70 C638.51,155.81 639.97,154.94 641.40,155.00 C642.84,155.06 644.27,156.10 645.70,156.10 C647.13,156.10 648.63,155.31 650.00,155.00 C651.25,154.72 653.00,154.42 653.60,154.30"/></g><g stroke="#1e1e1e" stroke-width="1"><line x1="43.4" y1="202" x2="48.2" y2="202"/><line x1="62.6" y1="202" x2="67.4" y2="202"/><line x1="384" y1="202.4" x2="388.8" y2="202.4"/><line x1="392.8" y1="202.4" x2="398.4" y2="202.4"/></g><path d="M1.30,168.65 C5.25,168.65 17.48,168.65 25.00,168.65 C31.82,168.65 41.29,168.76 44.50,168.65 C45.56,168.61 45.93,168.39 46.60,168.50 C47.26,168.61 47.94,168.90 48.50,169.30 C49.08,169.72 49.48,170.53 50.00,171.00 C50.45,171.41 50.93,172.00 51.40,172.00 C51.87,172.00 52.30,171.33 52.80,171.00 C53.36,170.63 54.01,169.86 54.60,169.90 C55.24,169.95 55.84,170.97 56.50,171.50 C57.18,172.04 57.92,173.12 58.60,173.10 C59.26,173.08 59.86,172.08 60.50,171.50 C61.20,170.86 61.87,169.89 62.60,169.40 C63.21,168.99 63.84,168.72 64.50,168.60 C65.15,168.48 65.43,168.64 66.50,168.65 C70.89,168.70 88.30,168.65 100.00,168.65 C112.86,168.65 135.15,166.72 140.50,168.65 C142.05,169.21 142.30,170.01 143.10,170.80 C143.90,171.59 144.39,172.94 145.30,173.40 C146.17,173.84 147.51,173.22 148.40,173.60 C149.27,173.97 149.90,174.83 150.60,175.60 C151.38,176.47 152.16,178.66 152.80,178.60 C153.46,178.54 153.92,176.26 154.50,175.10 C155.08,173.93 155.65,171.76 156.30,171.60 C156.71,171.50 157.15,172.26 157.60,172.50 C158.02,172.72 158.45,173.12 158.90,173.00 C159.60,172.81 160.40,170.49 161.10,170.30 C161.55,170.18 161.99,170.41 162.40,170.80 C163.21,171.56 163.58,175.28 164.60,175.60 C165.44,175.87 166.67,174.39 167.70,173.80 C168.71,173.22 169.62,172.32 170.70,172.10 C171.79,171.88 173.34,172.71 174.20,172.50 C174.77,172.36 175.02,172.02 175.50,171.60 C176.27,170.93 176.64,169.34 178.20,168.65 C181.85,167.04 191.25,168.65 200.00,168.65 C213.26,168.65 232.58,168.65 250.00,168.65 C269.07,168.65 299.92,168.65 309.90,168.65" fill="none" stroke="#ff2a2a" stroke-width="1.1"/><g stroke="#333" stroke-width="1"><line x1="1.3" y1="183.45" x2="309.9" y2="183.45"/><line x1="1.8" y1="183.45" x2="1.8" y2="186.45"/><line x1="45" y1="183.45" x2="45" y2="186.45"/><line x1="89.1" y1="183.45" x2="89.1" y2="186.45"/><line x1="133.2" y1="183.45" x2="133.2" y2="186.45"/><line x1="177.3" y1="183.45" x2="177.3" y2="186.45"/><line x1="221.3" y1="183.45" x2="221.3" y2="186.45"/><line x1="265.6" y1="183.45" x2="265.6" y2="186.45"/><line x1="309.5" y1="183.45" x2="309.5" y2="186.45"/><line x1="345" y1="183.45" x2="653.8" y2="183.45"/><line x1="345.5" y1="183.45" x2="345.5" y2="186.45"/><line x1="389" y1="183.45" x2="389" y2="186.45"/><line x1="433" y1="183.45" x2="433" y2="186.45"/><line x1="477.4" y1="183.45" x2="477.4" y2="186.45"/><line x1="521.6" y1="183.45" x2="521.6" y2="186.45"/><line x1="565.6" y1="183.45" x2="565.6" y2="186.45"/><line x1="609.7" y1="183.45" x2="609.7" y2="186.45"/><line x1="653.6" y1="183.45" x2="653.6" y2="186.45"/></g><ellipse cx="500.6" cy="155.3" rx="9.2" ry="18.1" fill="none" stroke="#e0302a" stroke-width="1.3"/><path d="M30.20,406.20 C30.53,405.20 31.35,401.58 32.20,400.20 C32.75,399.30 33.61,399.31 34.10,398.30 C35.06,396.32 34.96,391.27 35.30,388.00 C35.61,385.03 35.82,379.50 36.10,379.50 C36.38,379.50 36.69,384.99 37.00,388.00 C37.35,391.41 37.36,398.79 38.10,398.90 C38.60,398.98 39.35,395.58 40.10,394.30 C40.71,393.27 41.58,393.05 42.10,391.70 C43.25,388.73 43.10,381.46 43.40,375.80 C43.74,369.34 43.74,361.47 43.90,355.00 C44.04,349.34 44.15,339.10 44.30,339.10 C44.45,339.10 44.62,349.97 44.80,355.00 C44.96,359.55 45.07,364.04 45.30,368.00 C45.49,371.33 45.55,374.15 46.00,377.20 C46.45,380.28 47.18,383.55 48.00,386.40 C48.74,388.97 49.89,393.67 50.60,393.60 C51.56,393.50 52.05,384.36 52.60,379.80 C53.14,375.36 53.45,366.60 53.90,366.60 C54.32,366.60 54.63,374.14 55.20,378.50 C55.90,383.84 56.92,396.24 57.90,396.30 C58.53,396.34 59.32,391.87 59.90,389.00 C60.70,385.01 61.20,374.51 61.80,374.50 C62.29,374.50 62.65,380.72 63.20,383.80 C63.75,386.88 64.54,393.03 65.10,393.00 C65.95,392.95 66.36,371.21 67.10,371.20 C67.72,371.19 68.46,381.13 69.10,386.40 C69.79,392.10 70.05,404.04 71.10,404.20 C71.66,404.28 72.49,400.91 73.10,399.60 C73.57,398.60 73.93,396.97 74.40,397.00 C75.18,397.05 76.25,404.57 77.00,404.60 C77.48,404.62 77.65,402.21 78.30,401.60 C78.82,401.11 79.68,401.51 80.30,400.90 C81.63,399.58 82.75,395.16 83.60,391.70 C84.64,387.46 85.07,382.48 85.60,377.20 C86.23,370.88 86.47,356.30 86.90,356.30 C87.33,356.30 87.77,369.83 88.20,377.20 C88.68,385.46 87.69,402.18 89.60,403.50 C90.12,403.86 90.88,402.82 91.50,402.90 C92.18,402.99 92.93,404.40 93.50,404.20 C94.42,403.88 95.01,400.70 95.50,398.30 C96.21,394.79 96.25,390.75 96.50,385.00 C96.97,374.44 96.90,355.27 97.10,340.00 C97.30,324.16 97.50,291.60 97.70,291.60 C97.90,291.60 98.12,325.79 98.30,340.00 C98.44,351.19 98.55,362.44 98.70,370.00 C98.79,374.60 98.75,377.30 99.00,381.10 C99.26,385.15 99.38,390.81 100.30,393.60 C100.81,395.16 101.70,395.67 102.30,397.00 C103.05,398.66 103.36,401.19 104.20,402.90 C104.94,404.40 105.88,406.54 106.90,406.80 C107.70,407.00 108.68,405.83 109.50,405.50 C110.20,405.22 111.04,404.71 111.50,404.90 C111.88,405.06 111.90,406.20 112.20,406.20 C112.67,406.21 113.32,403.55 114.10,402.90 C114.68,402.42 115.58,402.83 116.10,402.20 C117.18,400.88 116.90,395.42 117.40,393.00 C117.74,391.38 118.20,388.97 118.50,389.00 C118.96,389.04 119.05,398.90 119.40,398.90 C119.77,398.90 120.20,387.71 120.70,387.70 C121.12,387.69 121.64,393.02 122.10,395.60 C122.54,398.08 122.53,402.70 123.40,402.90 C124.16,403.07 125.78,399.73 126.70,398.30 C127.45,397.13 128.08,394.98 128.60,395.00 C129.00,395.01 129.32,397.05 129.60,397.00 C130.11,396.92 130.13,389.74 130.60,389.70 C130.98,389.67 131.39,393.28 132.00,394.30 C132.38,394.93 132.90,394.93 133.30,395.60 C134.07,396.90 134.63,402.24 135.20,402.20 C135.99,402.15 136.65,393.35 137.20,389.00 C137.74,384.78 137.90,376.53 138.50,376.50 C139.04,376.47 139.94,383.21 140.50,386.40 C141.02,389.36 140.61,394.12 141.80,395.00 C142.46,395.49 143.69,394.47 144.50,394.60 C145.24,394.72 145.94,395.82 146.50,395.60 C147.39,395.25 147.73,392.16 148.40,390.40 C149.10,388.56 149.77,386.27 150.60,384.80 C151.21,383.72 151.94,382.36 152.60,382.20 C153.04,382.09 153.52,382.93 153.90,382.80 C154.44,382.61 154.83,381.40 155.20,380.20 C155.91,377.90 156.18,372.72 156.60,369.60 C156.93,367.14 157.28,365.87 157.50,363.00 C157.91,357.66 157.78,348.72 157.90,340.00 C158.06,328.50 158.15,313.48 158.30,300.00 C158.45,286.22 158.60,258.20 158.80,258.20 C159.00,258.20 159.26,286.22 159.50,300.00 C159.73,313.48 159.97,326.71 160.20,340.00 C160.43,353.21 160.72,368.65 160.90,379.50 C161.03,387.10 159.62,396.30 161.20,398.90 C161.79,399.88 162.71,400.06 163.60,400.20 C164.59,400.36 165.81,399.32 166.90,399.60 C168.25,399.95 169.70,403.06 170.90,402.90 C172.15,402.74 173.02,399.84 174.20,398.30 C175.45,396.67 176.91,393.59 178.20,393.40 C179.12,393.26 180.11,394.27 180.90,395.20 C182.02,396.51 182.64,399.09 183.60,401.10 C184.63,403.25 185.77,407.58 186.90,407.70 C187.75,407.79 188.63,405.70 189.50,404.40 C190.60,402.75 191.62,400.23 192.80,398.50 C193.84,396.98 194.94,394.79 196.10,394.50 C196.97,394.28 198.08,394.90 198.80,395.60 C199.71,396.48 200.05,398.30 200.70,399.80 C201.44,401.50 202.16,405.20 203.00,405.30 C203.65,405.38 204.35,403.39 205.10,402.40 C205.91,401.33 206.87,399.04 207.70,399.10 C208.64,399.17 209.26,402.42 210.40,403.80 C211.55,405.19 213.13,407.06 214.60,407.40 C215.85,407.69 217.41,407.10 218.50,406.40 C219.62,405.68 220.52,404.62 221.20,403.10 C222.25,400.78 222.18,396.15 222.80,393.20 C223.31,390.76 223.69,386.69 224.50,386.60 C225.34,386.51 226.77,391.12 227.80,393.20 C228.72,395.06 229.46,396.70 230.40,398.50 C231.41,400.43 232.34,403.34 233.70,404.40 C234.67,405.16 235.92,404.87 237.00,405.30 C238.13,405.75 239.17,406.93 240.30,407.10 C241.37,407.26 242.49,406.52 243.60,406.40 C244.69,406.29 246.35,406.40 246.90,406.40" fill="none" stroke="#2424f0" stroke-width="1.35" stroke-linejoin="round"/><g stroke="#2a2a2a" stroke-width="1.2"><line x1="25.1" y1="424.7" x2="246.9" y2="424.7"/></g><g stroke="#1e1e1e" stroke-width="0.8"><line x1="41.9" y1="420.6" x2="41.9" y2="424"/><line x1="101.9" y1="420.6" x2="101.9" y2="424"/><line x1="161.8" y1="420.6" x2="161.8" y2="424"/><line x1="221.8" y1="420.6" x2="221.8" y2="424"/></g><g stroke="#2a2a2a" stroke-width="1" stroke-dasharray="2.2,1.5" fill="none"><line x1="69.2" y1="344.6" x2="73" y2="393.5"/><line x1="75.8" y1="353.5" x2="76.7" y2="398.5"/><line x1="83.2" y1="331.6" x2="85.5" y2="354.7"/><line x1="51.3" y1="358.9" x2="53.3" y2="365.5"/><line x1="108.2" y1="350.4" x2="108.4" y2="394"/><line x1="130.6" y1="360.9" x2="130.6" y2="389"/><line x1="136.6" y1="348.4" x2="136.6" y2="373"/><line x1="140.5" y1="329.9" x2="143.2" y2="394"/><line x1="150.2" y1="302" x2="151" y2="384"/><line x1="172.2" y1="375.8" x2="166.3" y2="398.9"/></g><ellipse cx="109.5" cy="402.9" rx="6.9" ry="14.5" fill="none" stroke="#e0302a" stroke-width="1.3"/><polyline points="355.2,411.5 356.5,414.1 360.3,414.6 365.6,413.6 369.5,411.7 371.0,405.6 371.8,398.0 372.2,393.2 372.5,380.0 372.8,393.2 373.5,396.0 374.1,408.4 375.1,404.0 375.6,395.0 376.1,404.0 376.8,395.8 377.4,406.4 378.1,397.2 378.8,406.4 379.4,398.5 380.1,405.0 380.7,401.1 382.1,408.4 384.0,410.4 386.7,411.7 390.6,413.6 394.6,414.6 401.2,414.6 401.8,413.3 402.4,414.6 407.8,415.0 414.4,414.7 421.0,414.0 424.9,413.0 427.9,412.2 429.5,411.0 430.4,409.0 430.9,406.0 431.1,399.5 431.5,398.3 432.0,399.5 432.4,398.6 432.9,400.5 433.2,407.0 433.8,410.5 435.0,411.5 436.0,411.0 436.6,407.0 436.9,394.0 437.3,395.5 437.8,392.9 438.3,394.5 438.6,393.5 438.9,397.0 439.3,406.0 440.0,410.0 441.0,412.0 442.3,413.2 450.8,412.7 458.0,412.4 461.4,412.3 463.3,411.5 464.1,406.5 464.4,398.0 464.9,397.5 465.4,398.0 465.9,397.0 466.4,398.0 466.7,405.6 467.5,410.6 468.2,404.0 468.6,395.0 469.2,390.6 469.7,395.0 470.2,391.5 470.8,396.0 471.3,393.0 471.7,393.9 472.3,398.0 472.8,404.8 473.4,411.5 474.5,405.0 475.1,397.7 475.7,402.0 476.3,407.3 477.6,411.0 480.1,411.9 482.5,412.3 490.4,413.6 498.3,413.0 500.0,412.6 501.4,413.0 502.7,410.2 503.7,410.9 505.5,410.2 506.5,408.9 507.5,406.7 508.5,408.9 510.2,411.2 511.6,409.2 512.6,408.5 514.0,410.6 515.3,411.2 516.4,408.2 516.8,396.0 517.0,394.5 517.3,400.0 517.6,394.2 517.9,411.6 518.7,412.3 519.6,400.0 519.8,398.6 520.1,403.0 520.3,396.9 520.8,407.5 521.7,410.9 522.0,403.0 522.2,401.4 522.4,405.0 522.5,401.0 523.2,410.9 524.2,413.2 525.1,402.0 525.4,400.3 525.7,404.0 525.9,405.4 526.6,411.9 528.2,413.0 534.8,412.3 541.4,411.7 545.4,409.7 546.8,408.0 547.3,393.2 547.8,408.0 550.6,407.7 553.3,405.7 555.2,397.2 556.2,386.6 557.2,401.1 558.5,393.2 559.3,380.0 559.9,366.4 560.5,385.0 561.2,372.0 561.8,384.0 562.5,387.9 563.3,392.0 563.8,386.8 564.4,394.0 565.1,401.1 567.1,406.4 569.1,408.4 571.7,407.1 573.1,398.5 574.4,406.4 575.3,400.0 575.7,388.6 576.3,400.0 576.8,405.1 578.1,397.2 579.7,407.7 583.6,408.4 588.9,409.7 595.0,411.0 601.6,410.1 606.9,409.7 610.2,407.7 612.0,406.5 613.5,405.1 614.5,403.0 615.3,404.5 616.8,401.1 617.6,399.0 618.8,397.2 619.5,396.0 620.3,392.5 621.0,396.0 621.4,390.8 622.1,394.0 622.7,391.2 623.4,393.9 624.7,394.5 625.4,398.0 626.4,401.1 628.0,405.7 630.6,407.7 633.3,405.7 635.2,403.8 636.6,396.5 637.3,392.0 637.9,384.6 638.5,378.0 639.2,387.9 640.0,390.0 640.5,380.0 641.2,386.0 641.8,382.6 642.5,388.0 643.2,380.0 643.8,392.0 644.5,394.5 645.2,390.0 645.8,387.9 646.4,394.0 647.1,397.2 649.1,399.1 650.4,398.5 651.2,395.0 651.7,385.0 652.3,385.0 653.0,392.0 654.4,391.9 655.0,403.8 656.4,407.7" fill="none" stroke="#111" stroke-width="1" stroke-linejoin="round"/><g fill="#111" stroke="#111" stroke-width="0.5"><polygon points="430.9,407 431.0,399.5 431.6,398.3 432.3,398.8 432.9,400.5 433.0,407"/><polygon points="436.7,406 436.9,394 437.8,392.9 438.6,393.5 438.9,397 439.0,406"/><polygon points="464.3,405.6 464.4,397.8 466.6,397.6 466.7,405.6"/><polygon points="468.5,404.5 468.7,395 469.2,391 470.2,391.8 471.7,394.2 472.6,397 472.7,404.5"/></g><g stroke="#111"><line x1="372.5" y1="219.9" x2="372.5" y2="395" stroke-width="1"/><line x1="372.8" y1="229.8" x2="372.8" y2="395" stroke-width="1"/><line x1="375.9" y1="381.2" x2="375.9" y2="405" stroke-width="0.9"/><line x1="651.7" y1="235.3" x2="651.7" y2="395" stroke-width="1"/><line x1="652" y1="258.3" x2="652" y2="395" stroke-width="1"/><line x1="465.7" y1="380.2" x2="465.7" y2="400" stroke-width="1.2"/><line x1="559.9" y1="366.4" x2="559.9" y2="390" stroke-width="0.9"/><line x1="561" y1="370" x2="561" y2="392" stroke-width="0.9"/></g><g stroke="#333" stroke-width="0.9" fill="none"><polyline points="429.2,378.5 429.2,376.7 475.8,376.7 475.8,378.5"/><polyline points="464.4,385.3 464.4,383.5 527.7,383.5 527.7,385.3"/><polyline points="610.2,371.7 610.2,368.8 649.8,368.8 649.8,371.7"/></g><g stroke="#333" stroke-width="0.6"><line x1="432.3" y1="376.7" x2="432.3" y2="378.3"/><line x1="436.3" y1="376.7" x2="436.3" y2="378.3"/><line x1="438.1" y1="376.7" x2="438.1" y2="378.3"/><line x1="465.7" y1="376.7" x2="465.7" y2="378.3"/><line x1="468" y1="376.7" x2="468" y2="378.3"/><line x1="470.2" y1="376.7" x2="470.2" y2="378.3"/><line x1="472.8" y1="376.7" x2="472.8" y2="378.3"/><line x1="468.5" y1="383.5" x2="468.5" y2="385.1"/><line x1="470.8" y1="383.5" x2="470.8" y2="385.1"/><line x1="516.7" y1="383.5" x2="516.7" y2="385.1"/><line x1="519.3" y1="383.5" x2="519.3" y2="385.1"/><line x1="522" y1="383.5" x2="522" y2="385.1"/><line x1="524.6" y1="383.5" x2="524.6" y2="385.1"/></g><g stroke="#111" stroke-width="1.3"><line x1="355.2" y1="426.3" x2="659" y2="426.3"/></g><g stroke="#111" stroke-width="0.8"><line x1="383.4" y1="426.3" x2="383.4" y2="429.8"/><line x1="438.4" y1="426.3" x2="438.4" y2="429.8"/><line x1="493.4" y1="426.3" x2="493.4" y2="429.8"/><line x1="548.5" y1="426.3" x2="548.5" y2="429.8"/><line x1="603.4" y1="426.3" x2="603.4" y2="429.8"/><line x1="658.4" y1="426.3" x2="658.4" y2="429.8"/></g><ellipse cx="435.05" cy="402.55" rx="7.0" ry="18.1" fill="none" stroke="#e0302a" stroke-width="1.3"/><g font-family="Liberation Sans, sans-serif"><text x="3.51" y="14.7" font-size="19.5" font-weight="bold" font-style="normal" fill="#000" text-anchor="start">A</text><text x="1.28" y="29.79" font-size="11.5" font-weight="normal" font-style="normal" fill="#1e1e1e" text-anchor="start" stroke="#1e1e1e" stroke-width="0.22">Simulations</text><text x="313.63" y="100.92" font-size="7.7" font-weight="normal" font-style="normal" fill="#1e1e1e" text-anchor="start" stroke="#1e1e1e" stroke-width="0.22">ON</text><text x="313.63" y="113.72" font-size="7.7" font-weight="normal" font-style="normal" fill="#1e1e1e" text-anchor="start" stroke="#1e1e1e" stroke-width="0.22">OFF</text><text x="313.46" y="156.32" font-size="7.7" font-weight="normal" font-style="normal" fill="#1e1e1e" text-anchor="start" stroke="#1e1e1e" stroke-width="0.22">DIFF x5</text><text x="314.08" y="169.6" font-size="7.7" font-weight="normal" font-style="normal" fill="#ff2a2a" text-anchor="start" stroke="#ff2a2a" stroke-width="0.22">Asp</text><text x="238.57" y="195.07999999999998" font-size="7.8" font-weight="bold" font-style="normal" fill="#1e1e1e" text-anchor="start">Frequency (ppm)</text><text x="335.78" y="17.2" font-size="19.5" font-weight="bold" font-style="normal" fill="#000" text-anchor="start">B</text><text x="344.91" y="30.08" font-size="11.8" font-weight="normal" font-style="normal" fill="#1e1e1e" text-anchor="start" stroke="#1e1e1e" stroke-width="0.22">In Vivo</text><text x="655.63" y="106.72" font-size="7.7" font-weight="normal" font-style="normal" fill="#1e1e1e" text-anchor="start" stroke="#1e1e1e" stroke-width="0.22">ON</text><text x="655.63" y="119.11999999999999" font-size="7.7" font-weight="normal" font-style="normal" fill="#1e1e1e" text-anchor="start" stroke="#1e1e1e" stroke-width="0.22">OFF</text><text x="657.46" y="156.52" font-size="7.7" font-weight="normal" font-style="normal" fill="#1e1e1e" text-anchor="start" stroke="#1e1e1e" stroke-width="0.22">DIFF x5</text><text x="582.57" y="195.07999999999998" font-size="7.8" font-weight="bold" font-style="normal" fill="#1e1e1e" text-anchor="start">Frequency (ppm)</text><text x="7.12" y="237.01" font-size="19.5" font-weight="bold" font-style="normal" fill="#000" text-anchor="start">C</text><text x="330.78" y="236.9" font-size="19.5" font-weight="bold" font-style="normal" fill="#000" text-anchor="start">D</text><text x="35.98" y="310.72" font-size="7.9" font-weight="bold" font-style="normal" fill="#151515" text-anchor="start">Cr</text><text x="35.77" y="319.92" font-size="7.9" font-weight="bold" font-style="normal" fill="#151515" text-anchor="start">PCr</text><text x="35.98" y="329.62" font-size="7.9" font-weight="bold" font-style="normal" fill="#151515" text-anchor="start">GSH</text><text x="35.77" y="339.2" font-size="7.9" font-weight="bold" font-style="normal" fill="#151515" text-anchor="start">PE</text><text x="87.78" y="270.52" font-size="7.9" font-weight="bold" font-style="normal" fill="#151515" text-anchor="start">Cr</text><text x="87.57" y="280.12" font-size="7.9" font-weight="bold" font-style="normal" fill="#151515" text-anchor="start">PCr</text><text x="87.78" y="289.62" font-size="7.9" font-weight="bold" font-style="normal" fill="#151515" text-anchor="start">GSH</text><text x="79.1" y="316.72" font-size="7.9" font-weight="bold" font-style="normal" fill="#151515" text-anchor="start">tCh</text><text x="78.67" y="326.2" font-size="7.9" font-weight="bold" font-style="normal" fill="#151515" text-anchor="start">PE</text><text x="61.9" y="340.02" font-size="7.9" font-weight="bold" font-style="normal" fill="#151515" text-anchor="start">Tau</text><text x="74.92" y="349.02" font-size="7.9" font-weight="bold" font-style="normal" fill="#151515" text-anchor="start">sI</text><text x="46.58" y="352.72" font-size="7.9" font-weight="bold" font-style="normal" fill="#151515" text-anchor="start">Glx</text><text x="58.19" y="368.4" font-size="7.9" font-weight="bold" font-style="normal" fill="#151515" text-anchor="start">mI</text><text x="25.89" y="375.9" font-size="7.9" font-weight="bold" font-style="normal" fill="#151515" text-anchor="start">mI</text><text x="136.88" y="297.92" font-size="7.9" font-weight="bold" font-style="normal" fill="#151515" text-anchor="start">Glx</text><text x="164.9" y="268.82" font-size="7.9" font-weight="bold" font-style="normal" fill="#151515" text-anchor="start">tNAA</text><text x="121.98" y="328.32" font-size="7.9" font-weight="bold" font-style="normal" fill="#151515" text-anchor="start">GABA</text><text x="122.58" y="341.52" font-size="7.9" font-weight="bold" font-style="normal" fill="#151515" text-anchor="start">Glu</text><text x="100.3" y="344.56" font-size="7.9" font-weight="bold" font-style="normal" fill="#151515" text-anchor="start">Asp</text><text x="115.98" y="362.62" font-size="7.9" font-weight="bold" font-style="normal" fill="#151515" text-anchor="start">Gln</text><text x="112.47" y="385.1" font-size="7.9" font-weight="bold" font-style="normal" fill="#151515" text-anchor="start">NAA</text><text x="164.88" y="370.02" font-size="7.9" font-weight="bold" font-style="normal" fill="#151515" text-anchor="start">GABA</text><text x="197.77" y="391.5" font-size="7.9" font-weight="bold" font-style="normal" fill="#151515" text-anchor="start">MM</text><text x="35.74" y="451.74" font-size="10.9" font-weight="bold" font-style="normal" fill="#1a1a1a" text-anchor="start">δ (ppm)</text><text x="376.19" y="245.1" font-size="10.2" font-weight="normal" font-style="normal" fill="#1e1e1e" text-anchor="start" stroke="#1e1e1e" stroke-width="0.22">Creatine</text><text x="373.79" y="379.7" font-size="10.2" font-weight="normal" font-style="normal" fill="#1e1e1e" text-anchor="start" stroke="#1e1e1e" stroke-width="0.22">GABA</text><text x="378.49" y="395.5" font-size="10.2" font-weight="normal" font-style="normal" fill="#1e1e1e" text-anchor="start" stroke="#1e1e1e" stroke-width="0.22">GSH</text><text x="430.07" y="373.98" font-size="10.2" font-weight="normal" font-style="normal" fill="#1e1e1e" text-anchor="start" stroke="#1e1e1e" stroke-width="0.22">Asp</text><text x="553.59" y="364.5" font-size="10.2" font-weight="normal" font-style="normal" fill="#1e1e1e" text-anchor="start" stroke="#1e1e1e" stroke-width="0.22">Glu</text><text x="571.19" y="386.5" font-size="10.2" font-weight="normal" font-style="normal" fill="#1e1e1e" text-anchor="start" stroke="#1e1e1e" stroke-width="0.22">GABA</text><text x="624.79" y="368.5" font-size="10.2" font-weight="normal" font-style="normal" fill="#1e1e1e" text-anchor="start" stroke="#1e1e1e" stroke-width="0.22">Glu</text><text x="634.89" y="378.6" font-size="10.2" font-weight="normal" font-style="normal" fill="#1e1e1e" text-anchor="start" stroke="#1e1e1e" stroke-width="0.22">Gln</text><text x="457.19" y="451.46" font-size="10.3" font-weight="bold" font-style="normal" fill="#1a1a1a" text-anchor="start">Chemical shift (δ,ppm)</text><text x="45.3" y="194.7" font-size="7.4" font-weight="bold" font-style="normal" fill="#1e1e1e" text-anchor="middle">4</text><text x="133.4" y="194.7" font-size="7.4" font-weight="bold" font-style="normal" fill="#1e1e1e" text-anchor="middle">3</text><text x="221.6" y="194.7" font-size="7.4" font-weight="bold" font-style="normal" fill="#1e1e1e" text-anchor="middle">2</text><text x="309.8" y="194.7" font-size="7.4" font-weight="bold" font-style="normal" fill="#1e1e1e" text-anchor="middle">1</text><text x="389.3" y="194.7" font-size="7.4" font-weight="bold" font-style="normal" fill="#1e1e1e" text-anchor="middle">4</text><text x="477.4" y="194.7" font-size="7.4" font-weight="bold" font-style="normal" fill="#1e1e1e" text-anchor="middle">3</text><text x="565.6" y="194.7" font-size="7.4" font-weight="bold" font-style="normal" fill="#1e1e1e" text-anchor="middle">2</text><text x="653.8" y="194.7" font-size="7.4" font-weight="bold" font-style="normal" fill="#1e1e1e" text-anchor="middle">1</text><text x="41.9" y="439.8" font-size="13.2" font-weight="bold" font-style="normal" fill="#1a1a1a" text-anchor="middle">4</text><text x="101.9" y="439.8" font-size="13.2" font-weight="bold" font-style="normal" fill="#1a1a1a" text-anchor="middle">3</text><text x="161.8" y="439.8" font-size="13.2" font-weight="bold" font-style="normal" fill="#1a1a1a" text-anchor="middle">2</text><text x="221.8" y="439.8" font-size="13.2" font-weight="bold" font-style="normal" fill="#1a1a1a" text-anchor="middle">1</text><text x="383.4" y="438.5" font-size="10.1" font-weight="bold" font-style="normal" fill="#1a1a1a" text-anchor="middle">3.0</text><text x="438.4" y="438.5" font-size="10.1" font-weight="bold" font-style="normal" fill="#1a1a1a" text-anchor="middle">2.8</text><text x="493.4" y="438.5" font-size="10.1" font-weight="bold" font-style="normal" fill="#1a1a1a" text-anchor="middle">2.6</text><text x="548.5" y="438.5" font-size="10.1" font-weight="bold" font-style="normal" fill="#1a1a1a" text-anchor="middle">2.4</text><text x="603.4" y="438.5" font-size="10.1" font-weight="bold" font-style="normal" fill="#1a1a1a" text-anchor="middle">2.2</text><text x="658.4" y="438.5" font-size="10.1" font-weight="bold" font-style="normal" fill="#1a1a1a" text-anchor="middle">2.0</text><text x="568.5" y="247.1" font-size="10.35" fill="#1e1e1e" stroke="#1e1e1e" stroke-width="0.22"><tspan font-style="italic">N</tspan>-acetylaspartate</text><text x="479.6" y="381.2" font-size="10.3" fill="#1e1e1e" stroke="#1e1e1e" stroke-width="0.22"><tspan font-style="italic">N</tspan>-acetylaspartate</text></g></svg>
</body></html>
